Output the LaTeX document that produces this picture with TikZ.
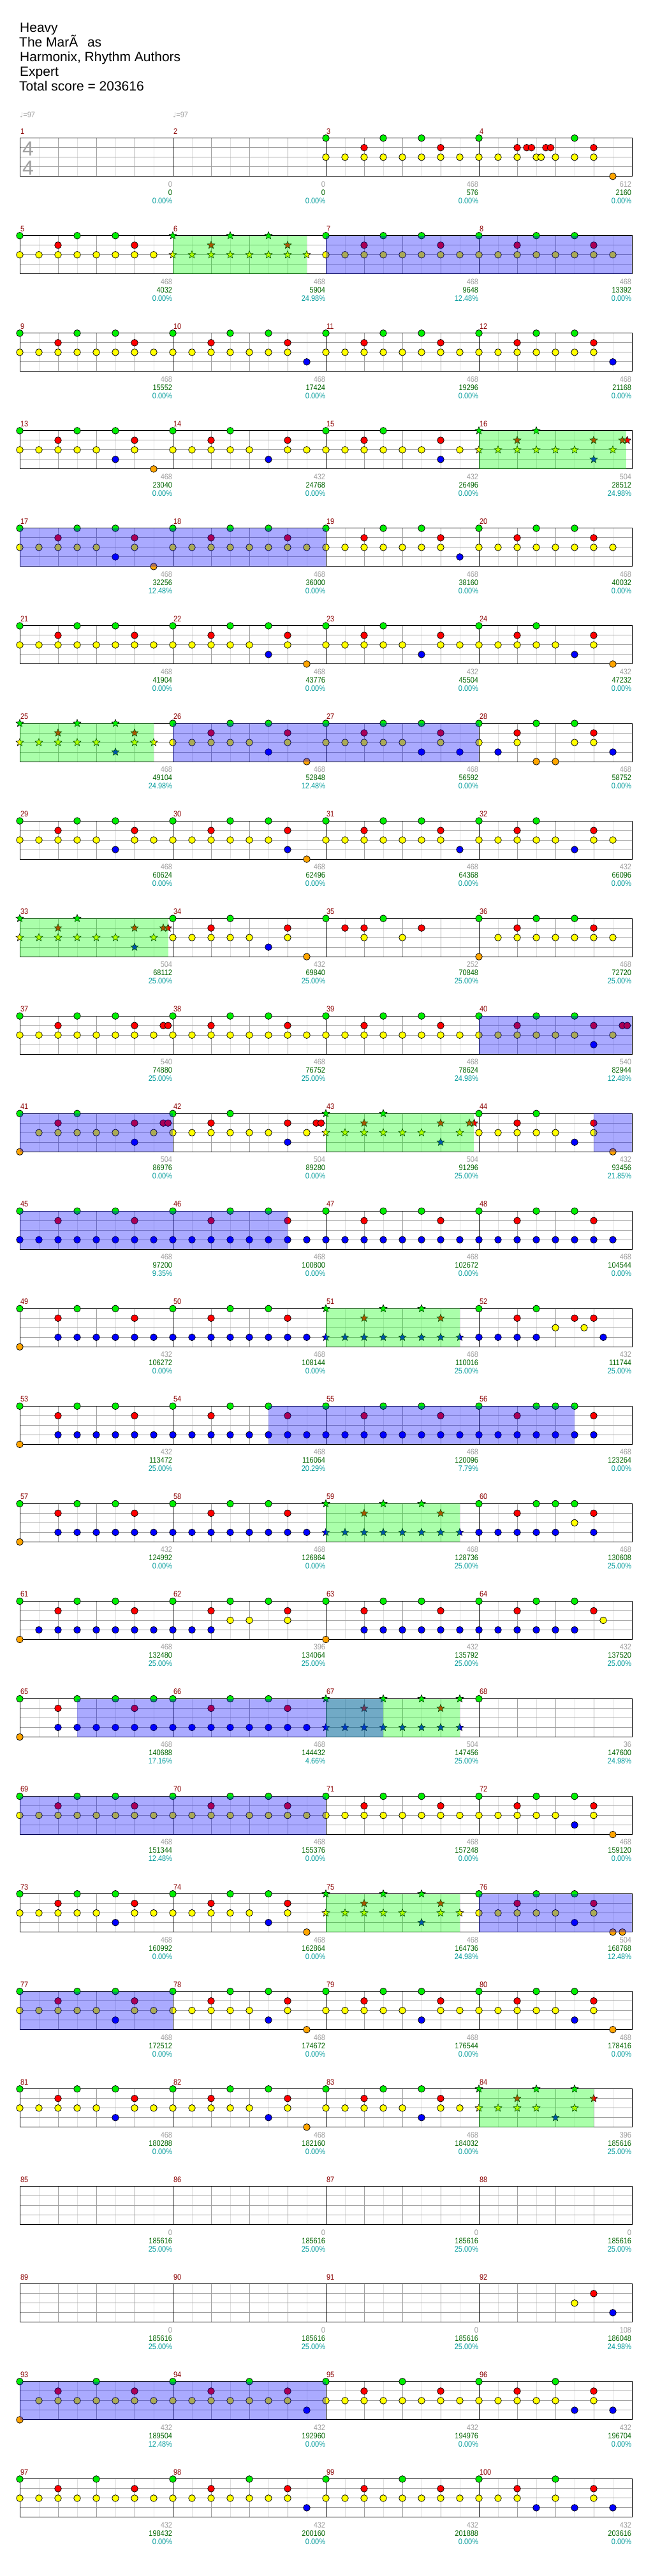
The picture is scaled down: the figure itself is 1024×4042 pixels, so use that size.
\documentclass[tikz,border=0pt]{standalone}
\usepackage{fontspec}
\setmainfont{Liberation Sans}
\newfontfamily\smallf[FakeStretch=0.88]{Liberation Sans}
\newfontfamily\djv{DejaVu Sans}
\usetikzlibrary{shapes.geometric}
\definecolor{lane0}{HTML}{00F000}
\definecolor{lane1}{HTML}{FF0000}
\definecolor{lane2}{HTML}{FFFF00}
\definecolor{lane3}{HTML}{0000FF}
\definecolor{lane4}{HTML}{FFA500}
\definecolor{txgray}{HTML}{A0A0A0}
\definecolor{txgreen}{HTML}{006400}
\definecolor{txcyan}{HTML}{009B9B}
\definecolor{txred}{HTML}{8B0000}
\definecolor{gridq}{HTML}{A0A0A0}
\definecolor{gride}{HTML}{DEDEDE}
\definecolor{ovg}{HTML}{00FF00}
\definecolor{ovb}{HTML}{0000FF}
\newcommand\mpos[1]{%
 \pgfmathtruncatemacro\mR{int((#1-1)/4)}%
 \pgfmathtruncatemacro\mC{#1-1-4*\mR}%
 \pgfmathsetmacro\mY{216.7+153.05*\mR}%
 \pgfmathsetmacro\mX{31+240*\mC}}
\newcommand\nCirc[3]{\mpos{#1}\foreach \p [count=\i] in {#3}{\node[nc,fill=lane#2] (c#1-#2-\i) at (\mX+15*\p,\mY+15*#2) {};}}
\newcommand\nStar[3]{\mpos{#1}\foreach \p [count=\i] in {#3}{\node[ns,fill=lane#2] (s#1-#2-\i) at (\mX+15*\p,\mY+15*#2) {};}}
\newcommand\patA[2]{#2{#1}{0}{0,6,10}#2{#1}{1}{4,12}#2{#1}{2}{0,2,...,14}}
\newcommand\patB[2]{#2{#1}{0}{0,6,10}#2{#1}{1}{4,12}#2{#1}{2}{0,2,4,6,8,12}#2{#1}{3}{10}#2{#1}{4}{14}}
\newcommand\patC[2]{#2{#1}{0}{0,6,10}#2{#1}{1}{4,12}#2{#1}{2}{0,2,...,12}#2{#1}{3}{14}}
\newcommand\patD[2]{#2{#1}{0}{0,6,10}#2{#1}{1}{4,12}#2{#1}{2}{0,2,4,6,8,12,14}#2{#1}{3}{10}}
\newcommand\patE[2]{#2{#1}{0}{0,6,10}#2{#1}{1}{4,12}#2{#1}{3}{0,2,...,14}}
\newcommand\patF[2]{#2{#1}{0}{0,6,10}#2{#1}{1}{4,12}#2{#1}{3}{4,6,...,14}#2{#1}{4}{0}}
\newcommand\mText[4]{\mpos{#1}%
 \node[mnum] (num#1) at (\mX+0.8,\mY-6.6) {#1};%
 \node[tg] (pts#1) at (\mX+239.3,\mY+76.4) {#2};%
 \node[tgr] (sc#1) at (\mX+239.3,\mY+89.4) {#3};%
 \node[tc] (pc#1) at (\mX+239.3,\mY+102.4) {#4};}
\newcommand\ovl[4]{\pgfmathsetmacro\mY{216.7+153.05*(#2-1)}\fill[#1,opacity=0.333] (31+15*#3,\mY) rectangle (31+15*#4,\mY+60);}
\begin{document}
\begin{tikzpicture}[x=1pt,y=-1pt,
 nc/.style={circle,draw=black,line width=0.75pt,minimum size=10.6pt,inner sep=0pt},
 ns/.style={star,star points=5,star point ratio=2.3,draw=black,line width=0.6pt,minimum size=12.5pt,inner sep=0pt},
 small/.style={inner sep=0pt,font=\smallf\fontsize{12.5}{13}\selectfont},
 mnum/.style={small,anchor=base west,text=txred},
 tg/.style={small,anchor=base east,text=txgray},
 tgr/.style={small,anchor=base east,text=txgreen},
 tc/.style={small,anchor=base east,text=txcyan},
 ttl/.style={anchor=base west,inner sep=0pt,font=\fontsize{21}{23}\selectfont},
 tsig/.style={inner sep=0pt,text=txgray,font=\fontsize{32}{32}\selectfont},
 g8/.style={draw=gride,line width=1pt},
 g4/.style={draw=gridq,line width=1pt},
 barl/.style={draw=black,line width=1pt}]
\useasboundingbox (0,0) rectangle (1024,4042);
\fill[white] (0,0) rectangle (1024,4042);
% title
\node[ttl] (h1) at (31,50) {Heavy};
\node[ttl] (h2) at (30,73) {The MarÃ\hspace{0.7em}as};
\node[ttl] (h3) at (31,96) {Harmonix, Rhythm Authors};
\node[ttl] (h4) at (31,119) {Expert};
\node[ttl] (h5) at (30,142) {Total score = 203616};
\node[small,anchor=base west,text=txgray] (bpm1) at (31,184.5) {{\djv\fontsize{11}{12}\selectfont ♩}=97};
\node[small,anchor=base west,text=txgray] (bpm2) at (271,184.5) {{\djv\fontsize{11}{12}\selectfont ♩}=97};
% staves
\foreach \r in {0,...,24}{
 \pgfmathsetmacro\T{216.7+153.05*\r}
 \foreach \k in {1,3,...,31} \draw[g8] (31+30*\k,\T) -- ++(0,60);
 \foreach \k in {2,4,...,30} \draw[g4] (31+30*\k,\T) -- ++(0,60);
 \foreach \k in {1,2,3} \draw[g4] (31,\T+15*\k) -- (991,\T+15*\k);
 \foreach \k in {1,2,3} \draw[barl] (31+240*\k,\T) -- ++(0,60);
 \draw[barl] (31,\T) rectangle (991,\T+60);
}
\node[tsig] (ts1) at (44,233.5) {4};
\node[tsig] (ts2) at (44,263.5) {4};
% notes
\patA{3}{\nCirc}
\nCirc{4}{0}{0,10}\nCirc{4}{1}{4,5,5.5,7,7.5,12}\nCirc{4}{2}{0,2,4,6,6.5,8,10,12}\nCirc{4}{4}{14}
\patA{5}{\nCirc}\patA{6}{\nStar}\patA{7}{\nCirc}\patA{8}{\nCirc}
\patA{9}{\nCirc}\patC{10}{\nCirc}\patA{11}{\nCirc}\patC{12}{\nCirc}
\patB{13}{\nCirc}
\nCirc{14}{0}{0,6}\nCirc{14}{1}{4,12}\nCirc{14}{2}{0,2,4,6,8,12,14}\nCirc{14}{3}{10}
\nCirc{15}{0}{0,6}\nCirc{15}{1}{4,12}\nCirc{15}{2}{0,2,4,6,8,10,14}\nCirc{15}{3}{12}
\nStar{16}{0}{0,6}\nStar{16}{1}{4,12,15,15.5}\nStar{16}{2}{0,2,4,6,8,10,14}\nStar{16}{3}{12}
\patB{17}{\nCirc}\patA{18}{\nCirc}\patC{19}{\nCirc}\patA{20}{\nCirc}
\patA{21}{\nCirc}\patB{22}{\nCirc}
\nCirc{23}{0}{0,6}\nCirc{23}{1}{4,12}\nCirc{23}{2}{0,2,4,6,8,12,14}\nCirc{23}{3}{10}
\nCirc{24}{0}{0,6}\nCirc{24}{1}{4,12}\nCirc{24}{2}{0,2,4,6,8,12}\nCirc{24}{3}{10}\nCirc{24}{4}{14}
\patD{25}{\nStar}\patB{26}{\nCirc}
\nCirc{27}{0}{0,6,10}\nCirc{27}{1}{4,12}\nCirc{27}{2}{0,2,4,6,8,12}\nCirc{27}{3}{10,14}
\nCirc{28}{0}{0,6,10}\nCirc{28}{1}{4,12}\nCirc{28}{2}{0,4,10,12}\nCirc{28}{3}{2,14}\nCirc{28}{4}{6,8}
\patD{29}{\nCirc}
\nCirc{30}{0}{0,6,10}\nCirc{30}{1}{4,12}\nCirc{30}{2}{0,2,...,10}\nCirc{30}{3}{12}\nCirc{30}{4}{14}
\patC{31}{\nCirc}
\nCirc{32}{0}{0,6}\nCirc{32}{1}{4,12}\nCirc{32}{2}{0,2,4,6,8,12,14}\nCirc{32}{3}{10}
\nStar{33}{0}{0,6}\nStar{33}{1}{4,12,15,15.5}\nStar{33}{2}{0,2,4,6,8,10,14}\nStar{33}{3}{12}
\nCirc{34}{0}{0,6}\nCirc{34}{1}{4,12}\nCirc{34}{2}{0,2,4,6,8,12}\nCirc{34}{3}{10}\nCirc{34}{4}{14}
\nCirc{35}{0}{0,6}\nCirc{35}{1}{2,4,10}\nCirc{35}{2}{4,8}
\nCirc{36}{0}{0,6,10}\nCirc{36}{1}{4,12}\nCirc{36}{2}{2,4,...,14}\nCirc{36}{4}{0}
\nCirc{37}{0}{0,6,10}\nCirc{37}{1}{4,12,15,15.5}\nCirc{37}{2}{0,2,...,14}
\patA{38}{\nCirc}\patA{39}{\nCirc}
\nCirc{40}{0}{0,6,10}\nCirc{40}{1}{4,12,15,15.5}\nCirc{40}{2}{0,2,4,6,8,10,14}\nCirc{40}{3}{12}
\nCirc{41}{0}{0,6}\nCirc{41}{1}{4,12,15,15.5}\nCirc{41}{2}{2,4,6,8,10,14}\nCirc{41}{3}{12}\nCirc{41}{4}{0}
\nCirc{42}{0}{0,6}\nCirc{42}{1}{4,12,15,15.5}\nCirc{42}{2}{0,2,4,6,8,10,14}\nCirc{42}{3}{12}
\nStar{43}{0}{0,6}\nStar{43}{1}{4,12,15,15.5}\nStar{43}{2}{0,2,4,6,8,10,14}\nStar{43}{3}{12}
\nCirc{44}{0}{0,6}\nCirc{44}{1}{4,12}\nCirc{44}{2}{0,2,4,6,8,12}\nCirc{44}{3}{10}\nCirc{44}{4}{14}
\patE{45}{\nCirc}\patE{46}{\nCirc}\patE{47}{\nCirc}\patE{48}{\nCirc}
\patF{49}{\nCirc}\patE{50}{\nCirc}\patE{51}{\nStar}
\nCirc{52}{0}{0,6}\nCirc{52}{1}{4,10,12}\nCirc{52}{2}{8,11}\nCirc{52}{3}{0,2,4,6,13}
\patF{53}{\nCirc}\patE{54}{\nCirc}\patE{55}{\nCirc}
\nCirc{56}{0}{0,6,8,10}\nCirc{56}{1}{4,12}\nCirc{56}{3}{0,2,...,12}
\patF{57}{\nCirc}\patE{58}{\nCirc}\patE{59}{\nStar}
\nCirc{60}{0}{0,6,8,10}\nCirc{60}{1}{4,12}\nCirc{60}{2}{10}\nCirc{60}{3}{0,2,4,6,8,12}
\nCirc{61}{0}{0,6,10}\nCirc{61}{1}{4,12}\nCirc{61}{3}{2,4,...,14}\nCirc{61}{4}{0}
\nCirc{62}{0}{0,6,10}\nCirc{62}{1}{4,12}\nCirc{62}{2}{6,8,12}\nCirc{62}{3}{0,2,4}
\patF{63}{\nCirc}
\nCirc{64}{0}{0,6,10}\nCirc{64}{1}{4,12}\nCirc{64}{2}{13}\nCirc{64}{3}{0,2,...,10}
\nCirc{65}{0}{0,6,10,14}\nCirc{65}{1}{4,12}\nCirc{65}{3}{4,6,...,14}\nCirc{65}{4}{0}
\patE{66}{\nCirc}
\nStar{67}{0}{0,6,10,14}\nStar{67}{1}{4,12}\nStar{67}{3}{0,2,...,14}
\nCirc{68}{0}{0}
\patA{69}{\nCirc}\patA{70}{\nCirc}\patA{71}{\nCirc}\patB{72}{\nCirc}
\patD{73}{\nCirc}\patB{74}{\nCirc}\patD{75}{\nStar}
\nCirc{76}{0}{0,6,10}\nCirc{76}{1}{4,12}\nCirc{76}{2}{0,2,4,6,8,12}\nCirc{76}{3}{10}\nCirc{76}{4}{14,15}
\patD{77}{\nCirc}\patB{78}{\nCirc}\patD{79}{\nCirc}\patB{80}{\nCirc}
\patD{81}{\nCirc}\patB{82}{\nCirc}\patD{83}{\nCirc}
\nStar{84}{0}{0,6,10}\nStar{84}{1}{4,12}\nStar{84}{2}{0,2,4,6,10}\nStar{84}{3}{8}
\nCirc{92}{1}{12}\nCirc{92}{2}{10}\nCirc{92}{3}{14}
\nCirc{93}{0}{0,8}\nCirc{93}{1}{4,12}\nCirc{93}{2}{2,4,...,14}\nCirc{93}{4}{0}
\nCirc{94}{0}{0,8}\nCirc{94}{1}{4,12}\nCirc{94}{2}{0,2,...,12}\nCirc{94}{3}{14}
\nCirc{95}{0}{0,8}\nCirc{95}{1}{4,12}\nCirc{95}{2}{0,2,...,14}
\nCirc{96}{0}{0,8}\nCirc{96}{1}{4,12}\nCirc{96}{2}{0,2,4,6,8,12}\nCirc{96}{3}{10,14}
\nCirc{97}{0}{0,8}\nCirc{97}{1}{4,12}\nCirc{97}{2}{0,2,...,14}
\nCirc{98}{0}{0,8}\nCirc{98}{1}{4,12}\nCirc{98}{2}{0,2,...,12}\nCirc{98}{3}{14}
\nCirc{99}{0}{0,8}\nCirc{99}{1}{4,12}\nCirc{99}{2}{0,2,...,14}
\nCirc{100}{0}{0,8}\nCirc{100}{1}{4,12}\nCirc{100}{2}{0,2,4,8,12}\nCirc{100}{3}{6,10,14}
% overdrive phrases
\ovl{ovg}{2}{16}{30}
\ovl{ovg}{4}{48}{63.4}
\ovl{ovg}{7}{0}{14}
\ovl{ovg}{9}{0}{15.55}
\ovl{ovg}{11}{32}{47.45}
\ovl{ovg}{13}{32}{46}
\ovl{ovg}{15}{32}{46}
\ovl{ovg}{17}{32}{46}
\ovl{ovg}{19}{32}{46}
\ovl{ovg}{21}{48}{60}
% solos
\ovl{ovb}{2}{32}{64}
\ovl{ovb}{5}{0}{32}
\ovl{ovb}{7}{16}{48}
\ovl{ovb}{10}{48}{64}
\ovl{ovb}{11}{0}{16}
\ovl{ovb}{11}{60}{64}
\ovl{ovb}{12}{0}{28}
\ovl{ovb}{14}{26}{58}
\ovl{ovb}{17}{6}{38}
\ovl{ovb}{18}{0}{32}
\ovl{ovb}{19}{48}{64}
\ovl{ovb}{20}{0}{16}
\ovl{ovb}{24}{0}{32}
% measure texts
\mText{1}{0}{0}{0.00\%}
\mText{2}{0}{0}{0.00\%}
\mText{3}{468}{576}{0.00\%}
\mText{4}{612}{2160}{0.00\%}
\mText{5}{468}{4032}{0.00\%}
\mText{6}{468}{5904}{24.98\%}
\mText{7}{468}{9648}{12.48\%}
\mText{8}{468}{13392}{0.00\%}
\mText{9}{468}{15552}{0.00\%}
\mText{10}{468}{17424}{0.00\%}
\mText{11}{468}{19296}{0.00\%}
\mText{12}{468}{21168}{0.00\%}
\mText{13}{468}{23040}{0.00\%}
\mText{14}{432}{24768}{0.00\%}
\mText{15}{432}{26496}{0.00\%}
\mText{16}{504}{28512}{24.98\%}
\mText{17}{468}{32256}{12.48\%}
\mText{18}{468}{36000}{0.00\%}
\mText{19}{468}{38160}{0.00\%}
\mText{20}{468}{40032}{0.00\%}
\mText{21}{468}{41904}{0.00\%}
\mText{22}{468}{43776}{0.00\%}
\mText{23}{432}{45504}{0.00\%}
\mText{24}{432}{47232}{0.00\%}
\mText{25}{468}{49104}{24.98\%}
\mText{26}{468}{52848}{12.48\%}
\mText{27}{468}{56592}{0.00\%}
\mText{28}{468}{58752}{0.00\%}
\mText{29}{468}{60624}{0.00\%}
\mText{30}{468}{62496}{0.00\%}
\mText{31}{468}{64368}{0.00\%}
\mText{32}{432}{66096}{0.00\%}
\mText{33}{504}{68112}{25.00\%}
\mText{34}{432}{69840}{25.00\%}
\mText{35}{252}{70848}{25.00\%}
\mText{36}{468}{72720}{25.00\%}
\mText{37}{540}{74880}{25.00\%}
\mText{38}{468}{76752}{25.00\%}
\mText{39}{468}{78624}{24.98\%}
\mText{40}{540}{82944}{12.48\%}
\mText{41}{504}{86976}{0.00\%}
\mText{42}{504}{89280}{0.00\%}
\mText{43}{504}{91296}{25.00\%}
\mText{44}{432}{93456}{21.85\%}
\mText{45}{468}{97200}{9.35\%}
\mText{46}{468}{100800}{0.00\%}
\mText{47}{468}{102672}{0.00\%}
\mText{48}{468}{104544}{0.00\%}
\mText{49}{432}{106272}{0.00\%}
\mText{50}{468}{108144}{0.00\%}
\mText{51}{468}{110016}{25.00\%}
\mText{52}{432}{111744}{25.00\%}
\mText{53}{432}{113472}{25.00\%}
\mText{54}{468}{116064}{20.29\%}
\mText{55}{468}{120096}{7.79\%}
\mText{56}{468}{123264}{0.00\%}
\mText{57}{432}{124992}{0.00\%}
\mText{58}{468}{126864}{0.00\%}
\mText{59}{468}{128736}{25.00\%}
\mText{60}{468}{130608}{25.00\%}
\mText{61}{468}{132480}{25.00\%}
\mText{62}{396}{134064}{25.00\%}
\mText{63}{432}{135792}{25.00\%}
\mText{64}{432}{137520}{25.00\%}
\mText{65}{468}{140688}{17.16\%}
\mText{66}{468}{144432}{4.66\%}
\mText{67}{504}{147456}{25.00\%}
\mText{68}{36}{147600}{24.98\%}
\mText{69}{468}{151344}{12.48\%}
\mText{70}{468}{155376}{0.00\%}
\mText{71}{468}{157248}{0.00\%}
\mText{72}{468}{159120}{0.00\%}
\mText{73}{468}{160992}{0.00\%}
\mText{74}{468}{162864}{0.00\%}
\mText{75}{468}{164736}{24.98\%}
\mText{76}{504}{168768}{12.48\%}
\mText{77}{468}{172512}{0.00\%}
\mText{78}{468}{174672}{0.00\%}
\mText{79}{468}{176544}{0.00\%}
\mText{80}{468}{178416}{0.00\%}
\mText{81}{468}{180288}{0.00\%}
\mText{82}{468}{182160}{0.00\%}
\mText{83}{468}{184032}{0.00\%}
\mText{84}{396}{185616}{25.00\%}
\mText{85}{0}{185616}{25.00\%}
\mText{86}{0}{185616}{25.00\%}
\mText{87}{0}{185616}{25.00\%}
\mText{88}{0}{185616}{25.00\%}
\mText{89}{0}{185616}{25.00\%}
\mText{90}{0}{185616}{25.00\%}
\mText{91}{0}{185616}{25.00\%}
\mText{92}{108}{186048}{24.98\%}
\mText{93}{432}{189504}{12.48\%}
\mText{94}{432}{192960}{0.00\%}
\mText{95}{432}{194976}{0.00\%}
\mText{96}{432}{196704}{0.00\%}
\mText{97}{432}{198432}{0.00\%}
\mText{98}{432}{200160}{0.00\%}
\mText{99}{432}{201888}{0.00\%}
\mText{100}{432}{203616}{0.00\%}
\end{tikzpicture}
\end{document}
